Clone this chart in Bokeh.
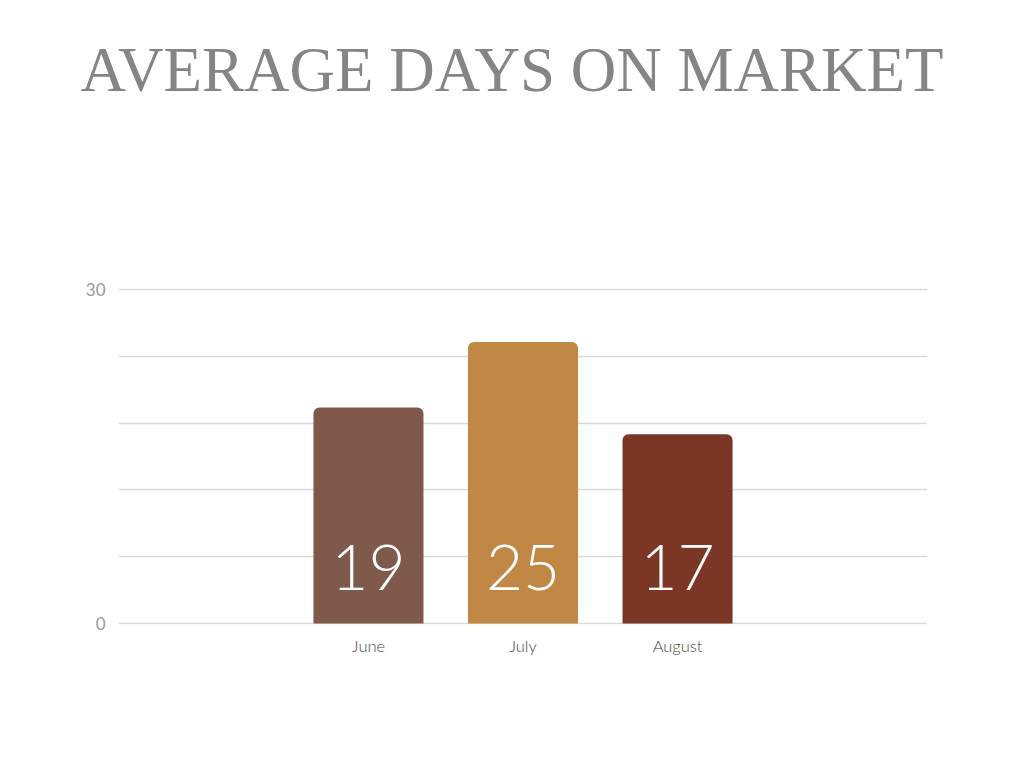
from bokeh.plotting import figure
from bokeh.models import FactorRange, FixedTicker, ColumnDataSource, Range1d, Div
from bokeh.layouts import column
from bokeh.core.properties import value
from bokeh.embed import file_html
from bokeh.resources import INLINE

title_text = "AVERAGE DAYS ON MARKET"
months = ["June", "July", "August"]
days = [19.4, 25.3, 17.0]
labels = ["19", "25", "17"]
colors = ["#7f594b", "#c08745", "#7b3626"]
grid_ticks = [0, 6, 12, 18, 24, 30]
label_ticks = [0, 30]

src = ColumnDataSource(dict(month=months, days=days, label=labels, color=colors, base=[0, 0, 0]))

title = Div(
    text=('<div style="font-family:\'Liberation Serif\';font-size:63px;color:#858585;'
          'text-align:center;width:1024px;line-height:1;padding-top:39px;">'
          + title_text + '</div>'),
    width=1024, height=120, margin=(0, 0, 0, 0),
)

p = figure(
    width=1024, height=648,
    x_range=FactorRange(factors=months, range_padding=0.745, range_padding_units="percent"),
    y_range=Range1d(-0.1, 30.1),
    output_backend="svg", toolbar_location=None,
    min_border_left=118, min_border_right=97, min_border_top=168, min_border_bottom=144,
    margin=(0, 0, 0, 0),
)
p.outline_line_color = None
p.background_fill_color = "white"
p.border_fill_color = "white"

p.vbar(x="month", top="days", width=0.712, source=src, fill_color="color",
       line_color=None, border_radius=(6, 6, 0, 0))

p.text(x="month", y="base", text="label", source=src, text_color="white",
       text_font=value("Lato Light, Lato"), text_font_size="64px",
       text_align="center", text_baseline="alphabetic", y_offset=-56)

p.xgrid.grid_line_color = None
p.ygrid.ticker = FixedTicker(ticks=grid_ticks)
p.ygrid.grid_line_color = "#d9d9d9"
p.ygrid.grid_line_width = 1.5

p.yaxis.ticker = FixedTicker(ticks=label_ticks)
p.yaxis.axis_line_color = None
p.yaxis.major_tick_line_color = None
p.yaxis.minor_tick_line_color = None
p.yaxis.major_label_text_font = "Lato"
p.yaxis.major_label_text_font_size = "17px"
p.yaxis.major_label_text_color = "#9a9a9a"
p.yaxis.major_label_standoff = 7

p.xaxis.axis_line_color = None
p.xaxis.major_tick_line_color = None
p.xaxis.major_label_text_font = "Lato Light, Lato"
p.xaxis.major_label_text_font_size = "16.5px"
p.xaxis.major_label_text_color = "#444444"
p.xaxis.major_label_standoff = 5

layout = column(title, p, spacing=0, margin=(0, 0, 0, 0))

open("out.html", "w").write(file_html(layout, INLINE))
